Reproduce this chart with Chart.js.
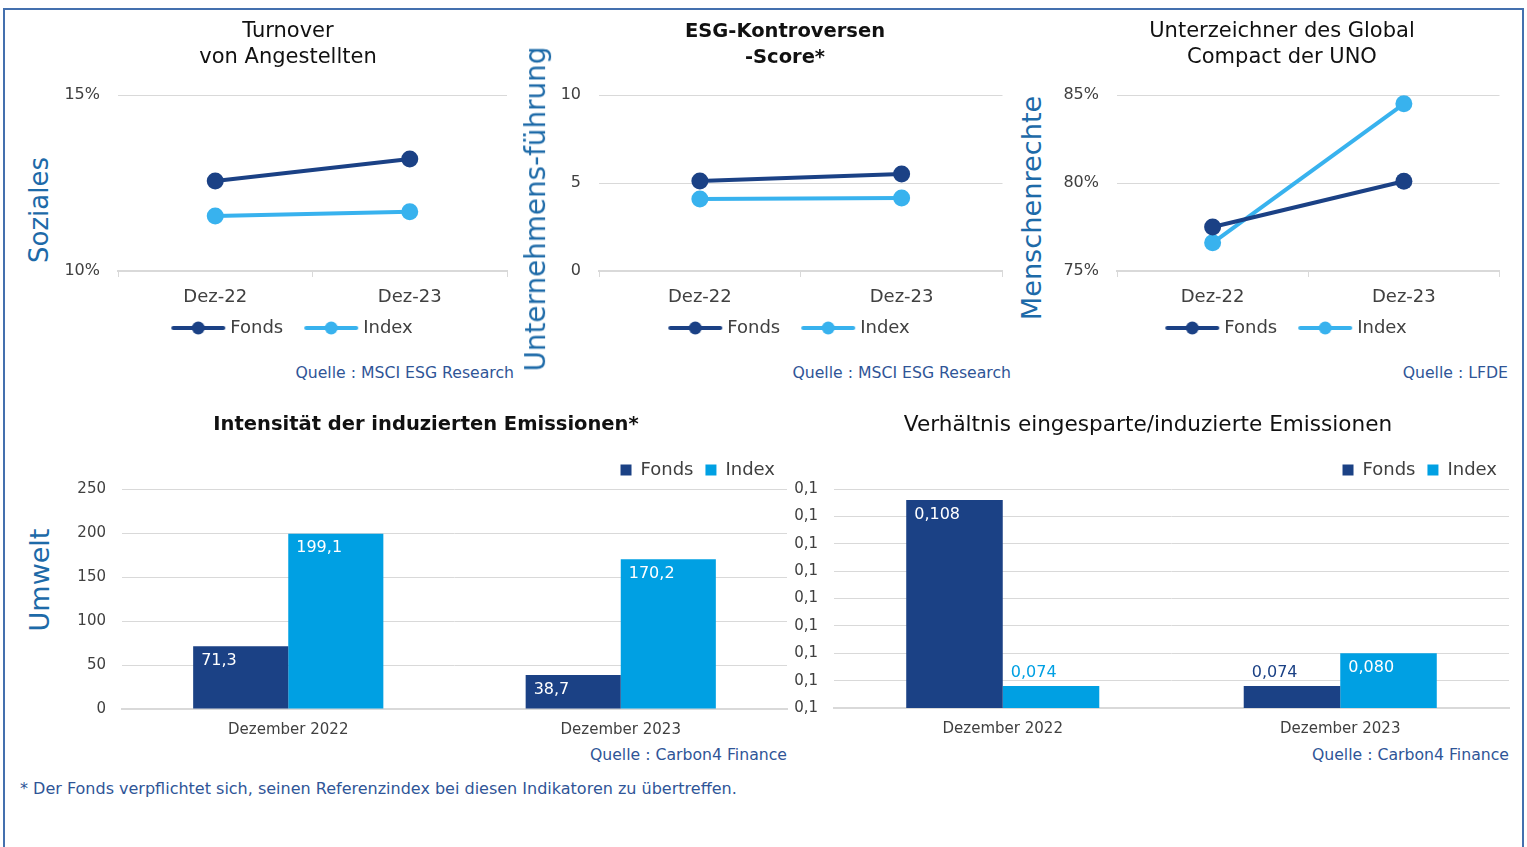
<!DOCTYPE html>
<html><head><meta charset="utf-8">
<script src="https://cdn.jsdelivr.net/npm/chart.js@4.4.1/dist/chart.umd.min.js"></script>
<style>
html,body{margin:0;padding:0;background:#fff;}
body{width:1527px;height:847px;position:relative;overflow:hidden;font-family:'DejaVu Sans',sans-serif;}
.box{position:absolute;}
.frame{position:absolute;left:3px;top:8px;width:1521px;height:870px;border:2px solid #4470AE;box-sizing:border-box;}
.ylab{position:absolute;font-size:26px;color:#1D6AA8;white-space:nowrap;transform:translate(-50%,-50%) rotate(-90deg);line-height:1;}
.src{position:absolute;font-size:15.7px;color:#2F5597;white-space:nowrap;transform:translate(-100%,-50%);line-height:1;}
.note{position:absolute;left:20px;top:789px;font-size:16px;color:#2F5597;white-space:nowrap;transform:translateY(-50%);line-height:1;}
</style>
</head><body>
<div class="frame"></div>
<div class="box" style="left:56px;top:10px;width:464px;height:337px;"><canvas id="c1"></canvas></div>
<div class="box" style="left:559px;top:10px;width:452px;height:337px;"><canvas id="c2"></canvas></div>
<div class="box" style="left:1056px;top:10px;width:452px;height:337px;"><canvas id="c3"></canvas></div>
<div class="box" style="left:57px;top:400px;width:738px;height:338px;"><canvas id="c4"></canvas></div>
<div class="box" style="left:779px;top:400px;width:738px;height:337px;"><canvas id="c5"></canvas></div>

<div class="ylab" style="left:39px;top:210px;">Soziales</div>
<div class="ylab" style="left:536px;top:209px;font-size:27.8px;">Unternehmens-führung</div>
<div class="ylab" style="left:1032px;top:208px;font-size:27.2px;">Menschenrechte</div>
<div class="ylab" style="left:39px;top:580px;font-size:27px;">Umwelt</div>

<div class="src" style="left:514px;top:373px;">Quelle : MSCI ESG Research</div>
<div class="src" style="left:1011px;top:373px;">Quelle : MSCI ESG Research</div>
<div class="src" style="left:1508px;top:373px;">Quelle : LFDE</div>
<div class="src" style="left:787px;top:755px;">Quelle : Carbon4 Finance</div>
<div class="src" style="left:1509px;top:755px;">Quelle : Carbon4 Finance</div>
<div class="note">* Der Fonds verpflichtet sich, seinen Referenzindex bei diesen Indikatoren zu übertreffen.</div>

<script>
// ---- data ----
const lineCategories = ['Dez-22', 'Dez-23'];
const barCategories = ['Dezember 2022', 'Dezember 2023'];
const seriesNames = ['Fonds', 'Index'];

const turnoverFonds = [12.56, 13.18];
const turnoverIndex = [11.56, 11.68];
const turnoverTicks = [10, 15];

const controversyFonds = [5.11, 5.51];
const controversyIndex = [4.09, 4.15];
const controversyTicks = [0, 5, 10];

const compactFonds = [77.5, 80.1];
const compactIndex = [76.6, 84.5];
const compactTicks = [75, 80, 85];

const emissionsFonds = [71.3, 38.7];
const emissionsIndex = [199.1, 170.2];
const emissionsTicks = [0, 50, 100, 150, 200, 250];

const ratioFonds = [0.108, 0.074];
const ratioIndex = [0.074, 0.080];
const ratioTicks = [0.07, 0.075, 0.08, 0.085, 0.09, 0.095, 0.1, 0.105, 0.11];

// ---- style ----
const DF = "'DejaVu Sans', sans-serif";
const C_F = '#1B4185';
const C_I = '#38B2EE';
const C_IB = '#00A0E3';
const GRID = '#D9D9D9';
const TXT = '#404040';
Chart.defaults.font.family = DF;

function legendImg(color) {
  const c = document.createElement('canvas');
  c.width = 76; c.height = 16;
  const g = c.getContext('2d');
  g.strokeStyle = color; g.lineWidth = 4; g.lineCap = 'round';
  g.beginPath(); g.moveTo(19, 8); g.lineTo(69, 8); g.stroke();
  g.fillStyle = color; g.beginPath(); g.arc(44, 8, 6.5, 0, Math.PI * 2); g.fill();
  return c;
}
const legendImgs = [legendImg(C_F), legendImg(C_I)];

function lineChart(id, title, bold, tsize, fonds, index, ticks, fmt, yW, y2W) {
  const step = ticks[1] - ticks[0];
  new Chart(document.getElementById(id), {
    type: 'line',
    data: {
      labels: lineCategories,
      datasets: [
        {label: seriesNames[0], data: fonds, borderColor: C_F, backgroundColor: C_F, borderWidth: 4,
         pointRadius: 8.5, pointHoverRadius: 8.5, pointBorderWidth: 0, tension: 0},
        {label: seriesNames[1], data: index, borderColor: C_I, backgroundColor: C_I, borderWidth: 4,
         pointRadius: 8.5, pointHoverRadius: 8.5, pointBorderWidth: 0, tension: 0}
      ]
    },
    options: {
      responsive: true, maintainAspectRatio: false, animation: false,
      layout: {padding: 0},
      plugins: {
        title: {display: true, text: title, color: '#111',
          font: {family: DF, size: tsize, weight: bold ? 'bold' : 'normal', lineHeight: '26px'},
          padding: {top: 9, bottom: 24}},
        legend: {position: 'bottom', labels: {
          usePointStyle: true, pointStyleWidth: 58, padding: 13, color: TXT,
          font: {family: DF, size: 18},
          generateLabels: (chart) => Chart.defaults.plugins.legend.labels.generateLabels(chart)
            .map((it, i) => Object.assign(it, {pointStyle: legendImgs[i]}))
        }},
        tooltip: {enabled: false}
      },
      scales: {
        x: {offset: true,
          grid: {display: true, drawOnChartArea: false, offset: true, tickLength: 6, color: GRID, lineWidth: 1},
          border: {display: true, color: GRID, width: 2},
          ticks: {font: {family: DF, size: 18}, color: TXT, padding: 10},
          afterFit: (s) => { s.height = 35; }},
        y: {min: ticks[0], max: ticks[ticks.length - 1],
          ticks: {stepSize: step, callback: fmt, font: {family: DF, size: 16}, color: TXT, padding: 18},
          grid: {color: GRID, lineWidth: 1, drawTicks: false},
          border: {display: false},
          afterFit: (s) => { s.width = yW; }},
        y2: {position: 'right', display: true,
          grid: {display: false, drawTicks: false}, border: {display: false}, ticks: {display: false},
          afterFit: (s) => { s.width = y2W; }}
      }
    }
  });
}

function valueLabels(fmt) {
  return {id: 'valueLabels', afterDatasetsDraw(chart) {
    const ctx = chart.ctx;
    const bottom = chart.chartArea.bottom;
    ctx.save();
    ctx.font = '16px ' + DF;
    ctx.textBaseline = 'middle'; ctx.textAlign = 'left';
    chart.data.datasets.forEach((ds, i) => {
      chart.getDatasetMeta(i).data.forEach((bar, j) => {
        const left = bar.x - bar.width / 2;
        const h = Math.min(bar.base, bottom) - bar.y;
        const txt = fmt(ds.data[j]);
        if (h > 28) { ctx.fillStyle = '#fff'; ctx.fillText(txt, left + 8, bar.y + 14.5); }
        else { ctx.fillStyle = ds.backgroundColor; ctx.fillText(txt, left + 8, bar.y - 13); }
      });
    });
    ctx.restore();
  }};
}

function barChart(id, title, bold, tsize, fonds, index, ticks, tickFmt, valFmt, yW) {
  const step = ticks[1] - ticks[0];
  new Chart(document.getElementById(id), {
    type: 'bar',
    data: {
      labels: barCategories,
      datasets: [
        {label: seriesNames[0], data: fonds, backgroundColor: C_F, borderWidth: 0, categoryPercentage: 0.572, barPercentage: 1},
        {label: seriesNames[1], data: index, backgroundColor: C_IB, borderWidth: 0, categoryPercentage: 0.572, barPercentage: 1}
      ]
    },
    options: {
      responsive: true, maintainAspectRatio: false, animation: false,
      layout: {padding: {left: 8, right: 8, top: 0, bottom: 0}},
      plugins: {
        title: {display: true, text: title, color: '#111',
          font: {family: DF, size: tsize, weight: bold ? 'bold' : 'normal', lineHeight: '24px'},
          padding: {top: 13, bottom: 12}},
        legend: {position: 'top', align: 'end', labels: {
          boxWidth: 11, boxHeight: 11, padding: 12, color: TXT, font: {family: DF, size: 18}}},
        tooltip: {enabled: false}
      },
      scales: {
        x: {grid: {display: false, drawTicks: false},
          border: {display: true, color: GRID, width: 2},
          ticks: {font: {family: DF, size: 15}, color: TXT, padding: 12},
          afterFit: (s) => { s.height = 29; }},
        y: {min: ticks[0], max: ticks[ticks.length - 1],
          ticks: {stepSize: step, callback: tickFmt, font: {family: DF, size: 15}, color: TXT, padding: 16},
          grid: {color: GRID, lineWidth: 1, drawTicks: false},
          border: {display: false},
          afterFit: (s) => { s.width = yW; }}
      }
    },
    plugins: [valueLabels(valFmt)]
  });
}

const pct = (v) => v + '%';
const plain = (v) => String(v);
const comma = (d) => (v) => Number(v).toFixed(d).replace('.', ',');

lineChart('c1', ['Turnover', 'von Angestellten'], false, 21, turnoverFonds, turnoverIndex, turnoverTicks, pct, 62, 13);
lineChart('c2', ['ESG-Kontroversen', '-Score*'], true, 19.5, controversyFonds, controversyIndex, controversyTicks, plain, 40, 8);
lineChart('c3', ['Unterzeichner des Global', 'Compact der UNO'], false, 21, compactFonds, compactIndex, compactTicks, pct, 61, 8);
barChart('c4', 'Intensität der induzierten Emissionen*', true, 19.5, emissionsFonds, emissionsIndex, emissionsTicks, plain, comma(1), 57);
barChart('c5', 'Verhältnis eingesparte/induzierte Emissionen', false, 21.6, ratioFonds, ratioIndex, ratioTicks, comma(1), comma(3), 47);
</script>
</body></html>
